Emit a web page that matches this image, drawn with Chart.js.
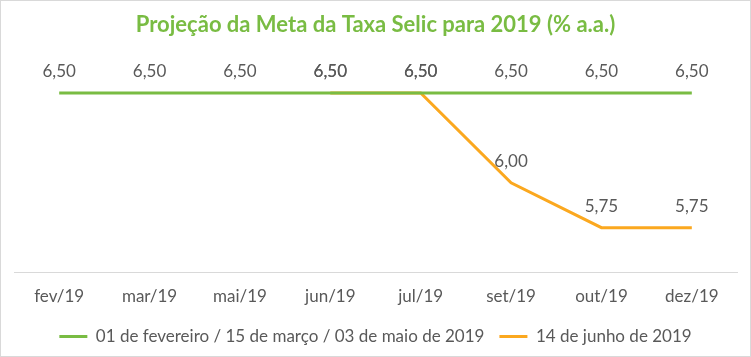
<!DOCTYPE html>
<html>
<head>
<meta charset="utf-8">
<script src="https://cdn.jsdelivr.net/npm/chart.js@4"></script>
<style>
html,body{margin:0;padding:0;background:#fff;}
#wrap{position:relative;width:751px;height:357px;}
</style>
</head>
<body>
<div id="wrap"><canvas id="c" width="751" height="357"></canvas></div>
<script>
const categories = ['fev/19','mar/19','mai/19','jun/19','jul/19','set/19','out/19','dez/19'];
const seriesGreen = [6.5,6.5,6.5,6.5,6.5,6.5,6.5,6.5];
const seriesOrange = [null,null,null,6.5,6.5,6.0,5.75,5.75];
const seriesNames = ['01 de fevereiro / 15 de março / 03 de maio de 2019','14 de junho de 2019'];
const titleText = 'Projeção da Meta da Taxa Selic para 2019 (% a.a.)';

const FONT = 'Lato, "Open Sans", sans-serif';
const GREEN = '#79bc43';
const ORANGE = '#fba81f';
const TEXT = '#595959';

const bgPlugin = {
  id: 'bg',
  beforeDraw(chart){
    const ctx = chart.ctx;
    ctx.save();
    ctx.fillStyle = '#fff';
    ctx.fillRect(0,0,chart.width,chart.height);
    ctx.strokeStyle = '#d9d9d9';
    ctx.lineWidth = 1;
    ctx.strokeRect(0.5,0.5,chart.width-1,chart.height-1);
    ctx.restore();
  }
};

const labelPlugin = {
  id: 'vlabels',
  afterDatasetsDraw(chart){
    const ctx = chart.ctx;
    ctx.save();
    ctx.font = '17px ' + FONT;
    ctx.fillStyle = TEXT;
    ctx.textAlign = 'center';
    ctx.textBaseline = 'middle';
    chart.data.datasets.forEach((ds, i) => {
      const meta = chart.getDatasetMeta(i);
      meta.data.forEach((pt, j) => {
        const v = ds.data[j];
        if (v === null || v === undefined) return;
        ctx.fillText(v.toFixed(2).replace('.', ','), pt.x, pt.y - 21);
      });
    });
    ctx.restore();
  }
};

new Chart(document.getElementById('c'), {
  type: 'line',
  data: {
    labels: categories,
    datasets: [
      { label: seriesNames[0], data: seriesGreen, borderColor: GREEN, backgroundColor: GREEN, borderWidth: 3, pointRadius: 0, tension: 0 },
      { label: seriesNames[1], data: seriesOrange, borderColor: ORANGE, backgroundColor: ORANGE, borderWidth: 3, pointRadius: 0, tension: 0 }
    ]
  },
  options: {
    responsive: false,
    animation: false,
    layout: { padding: { left: 14, right: 14, top: 0, bottom: 2 } },
    plugins: {
      title: {
        display: true, text: titleText, color: GREEN,
        font: { family: FONT, size: 22, weight: 'bold' },
        padding: { top: 12, bottom: 9.6 }
      },
      legend: {
        position: 'bottom',
        labels: {
          color: TEXT, font: { family: FONT, size: 17 },
          boxWidth: 28, boxHeight: 3, padding: 15,
          generateLabels(chart){
            const items = Chart.defaults.plugins.legend.labels.generateLabels(chart);
            items.forEach(it => { it.lineWidth = 0; });
            return items;
          }
        }
      },
      tooltip: { enabled: false }
    },
    scales: {
      x: {
        offset: true,
        grid: { display: false },
        border: { display: true, color: '#d9d9d9', width: 1 },
        ticks: { color: TEXT, font: { family: FONT, size: 17 }, padding: 6, maxRotation: 0 }
      },
      y: {
        display: false,
        min: 5.5, max: 6.75
      }
    }
  },
  plugins: [bgPlugin, labelPlugin]
});
</script>
</body>
</html>
